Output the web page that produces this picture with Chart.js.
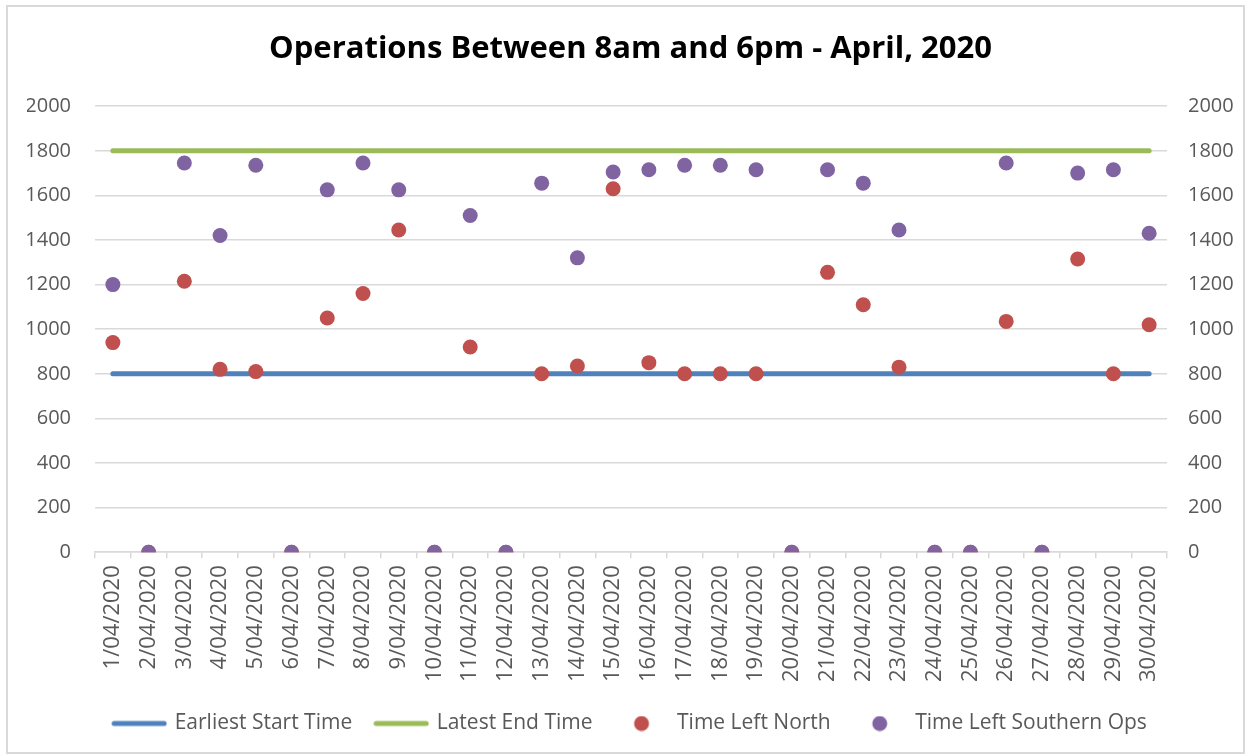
<!DOCTYPE html>
<html>
<head>
<meta charset="utf-8">
<script src="https://cdn.jsdelivr.net/npm/chart.js@4.4.0/dist/chart.umd.min.js"></script>
<style>
  html, body { margin: 0; padding: 0; background: #fff; }
  #wrap { position: relative; width: 1251px; height: 756px; }
  #frame { position: absolute; left: 6px; top: 5px; width: 1239px; height: 749px; border: 2px solid #d9d9d9; box-sizing: border-box; }
  #opsChart { position: absolute; left: 0; top: 0; }
</style>
</head>
<body>
<div id="wrap">
  <div id="frame"></div>
  <canvas id="opsChart" width="1251" height="756"></canvas>
</div>
<script>
var days = ['1/04/2020', '2/04/2020', '3/04/2020', '4/04/2020', '5/04/2020', '6/04/2020',
    '7/04/2020', '8/04/2020', '9/04/2020', '10/04/2020', '11/04/2020', '12/04/2020',
    '13/04/2020', '14/04/2020', '15/04/2020', '16/04/2020', '17/04/2020', '18/04/2020',
    '19/04/2020', '20/04/2020', '21/04/2020', '22/04/2020', '23/04/2020', '24/04/2020',
    '25/04/2020', '26/04/2020', '27/04/2020', '28/04/2020', '29/04/2020', '30/04/2020'];

var earliestStart = [800, 800, 800, 800, 800, 800, 800, 800, 800, 800, 800, 800, 800, 800, 800,
    800, 800, 800, 800, 800, 800, 800, 800, 800, 800, 800, 800, 800, 800, 800];

var latestEnd = [1800, 1800, 1800, 1800, 1800, 1800, 1800, 1800, 1800, 1800, 1800, 1800, 1800, 1800, 1800,
    1800, 1800, 1800, 1800, 1800, 1800, 1800, 1800, 1800, 1800, 1800, 1800, 1800, 1800, 1800];

var timeLeftNorth = [940, 0, 1215, 820, 810, 0, 1050, 1160, 1445, 0, 920, 0, 800, 835, 1630,
    850, 800, 800, 800, 0, 1255, 1110, 830, 0, 0, 1035, 0, 1315, 800, 1020];

var timeLeftSouth = [1200, 0, 1745, 1420, 1735, 0, 1625, 1745, 1625, 0, 1510, 0, 1655, 1320, 1705,
    1715, 1735, 1735, 1715, 0, 1715, 1655, 1445, 0, 0, 1745, 0, 1700, 1715, 1430];

var yMin = 0, yMax = 2000, yStep = 200;

var blue = '#4f81bd', green = '#9bbb59', red = '#c0504d', purple = '#8064a2';
var textGrey = '#595959', gridGrey = '#d9d9d9';

// legend swatches, all the same width like Excel
function lineSwatch(color) {
    var c = document.createElement('canvas');
    c.width = 56; c.height = 8;
    var g = c.getContext('2d');
    g.strokeStyle = color; g.lineWidth = 5; g.lineCap = 'round';
    g.beginPath(); g.moveTo(3, 4); g.lineTo(53, 4); g.stroke();
    return c;
}
function dotSwatch(color) {
    var c = document.createElement('canvas');
    c.width = 56; c.height = 16;
    var g = c.getContext('2d');
    g.fillStyle = color;
    g.beginPath(); g.arc(28, 8, 7.5, 0, Math.PI * 2); g.fill();
    return c;
}
var swatches = [lineSwatch(blue), lineSwatch(green), dotSwatch(red), dotSwatch(purple)];

function plainNumber(value) {
    return String(value);
}

var ctx = document.getElementById('opsChart').getContext('2d');
var opsChart = new Chart(ctx, {
    type: 'line',
    data: {
        labels: days,
        datasets: [{
            label: 'Earliest Start Time',
            data: earliestStart,
            borderColor: blue,
            backgroundColor: blue,
            borderWidth: 5,
            borderCapStyle: 'round',
            pointRadius: 0,
            order: 4
        }, {
            label: 'Latest End Time',
            data: latestEnd,
            borderColor: green,
            backgroundColor: green,
            borderWidth: 5,
            borderCapStyle: 'round',
            pointRadius: 0,
            order: 3
        }, {
            label: 'Time Left North',
            data: timeLeftNorth,
            showLine: false,
            pointRadius: 7.5,
            pointBorderWidth: 0,
            pointBackgroundColor: red,
            borderColor: red,
            backgroundColor: red,
            order: 2
        }, {
            label: 'Time Left Southern Ops',
            data: timeLeftSouth,
            showLine: false,
            pointRadius: 7.5,
            pointBorderWidth: 0,
            pointBackgroundColor: purple,
            borderColor: purple,
            backgroundColor: purple,
            order: 1
        }]
    },
    options: {
        responsive: false,
        animation: false,
        layout: { padding: { left: 27, right: 17, top: 16, bottom: 12 } },
        plugins: {
            title: {
                display: true,
                text: 'Operations Between 8am and 6pm - April, 2020',
                color: '#000',
                font: { family: 'Open Sans', size: 31, weight: 'bold' },
                padding: { top: 15, bottom: 38 }
            },
            legend: {
                position: 'bottom',
                labels: {
                    usePointStyle: true,
                    pointStyleWidth: 50,
                    padding: 24,
                    color: textGrey,
                    font: { family: 'Open Sans', size: 21 },
                    sort: function(a, b) { return a.datasetIndex - b.datasetIndex; },
                    generateLabels: function(chart) {
                        var items = Chart.defaults.plugins.legend.labels.generateLabels(chart);
                        items.forEach(function(item) {
                            item.pointStyle = swatches[item.datasetIndex];
                        });
                        return items;
                    }
                }
            },
            tooltip: { enabled: false }
        },
        scales: {
            x: {
                type: 'category',
                offset: true,
                grid: { drawOnChartArea: false, drawTicks: true, tickLength: 6, color: gridGrey, lineWidth: 1.5, offset: true },
                border: { display: true, color: gridGrey, width: 1.5 },
                ticks: {
                    autoSkip: false,
                    minRotation: 90,
                    maxRotation: 90,
                    padding: 7,
                    color: textGrey,
                    font: { family: 'Open Sans', size: 22 }
                },
                // vertical labels do not stick out sideways
                afterFit: function(scale) { scale.paddingLeft = 0; scale.paddingRight = 0; }
            },
            y: {
                position: 'left',
                min: yMin,
                max: yMax,
                grid: { color: gridGrey, lineWidth: 1.5, drawTicks: false },
                border: { display: false },
                ticks: { stepSize: yStep, padding: 24, color: textGrey, font: { family: 'Open Sans', size: 20 }, callback: plainNumber },
                afterFit: function(scale) { scale.width = 68; }
            },
            y1: {
                position: 'right',
                min: yMin,
                max: yMax,
                grid: { drawOnChartArea: false, drawTicks: false },
                border: { display: false },
                ticks: { stepSize: yStep, padding: 21, color: textGrey, font: { family: 'Open Sans', size: 20 }, callback: plainNumber },
                afterFit: function(scale) { scale.width = 67; }
            }
        }
    }
});
</script>
</body>
</html>
